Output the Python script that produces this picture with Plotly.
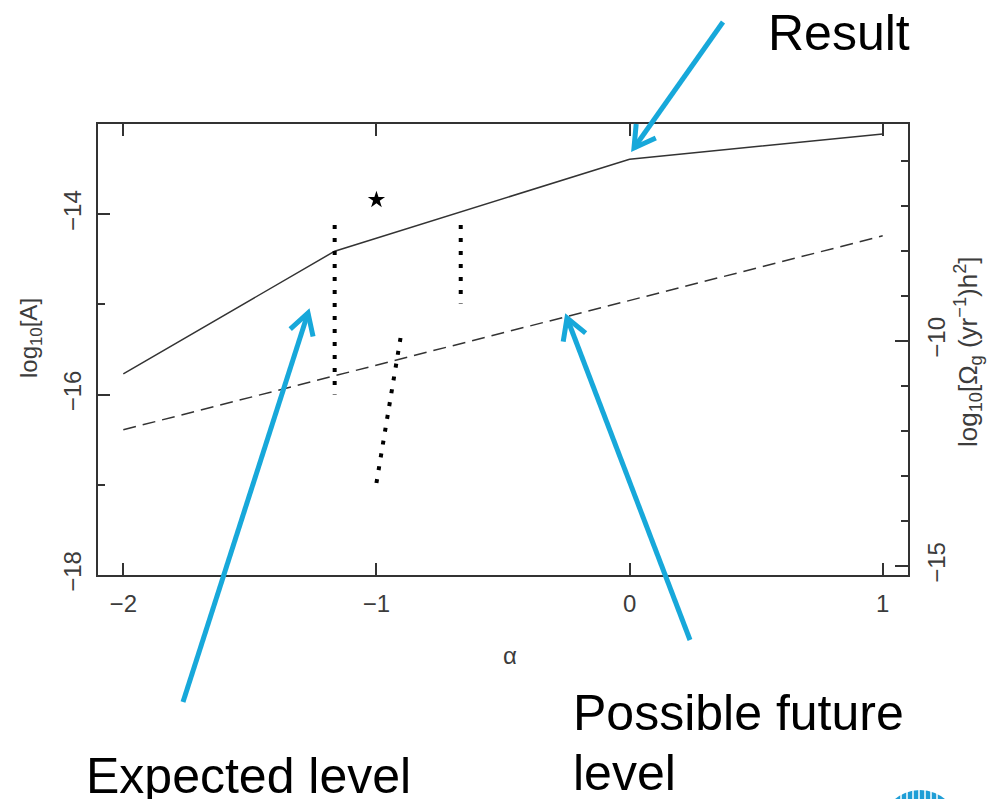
import math
import plotly.graph_objects as go

# ---- data (alpha vs log10 A) ----
alpha_result = [-2.0, -1.165, 0.0, 1.0]
logA_result = [-15.77, -14.41, -13.39, -13.11]

alpha_future = [-2.0, 1.0]
logA_future = [-16.39, -14.24]

alpha_band1 = [-1.165, -1.165]
logA_band1 = [-14.12, -16.0]

alpha_band2 = [-0.667, -0.667]
logA_band2 = [-14.12, -14.99]

alpha_band3 = [-1.0, -0.90]
logA_band3 = [-16.98, -15.29]

alpha_star = [-1.0]
logA_star = [-13.84]

x_ticks = [-2, -1, 0, 1]
x_ticktext = ["\u22122", "\u22121", "0", "1"]
yl_ticks = [-18, -16, -14]
yl_ticktext = ["\u221218", "\u221216", "\u221214"]
yl_minor = [-17, -15]
yr_ticks = [-15, -10]
yr_ticktext = ["\u221215", "\u221210"]
yr_minor = [-14, -13, -12, -11, -9, -8, -7, -6]

# ---- page geometry ----
W, H = 1001, 799
PL, PR, PT, PB = 98, 908, 124, 575
AX = "#333333"
LBL = "#3c3c3c"
BLUE = "#17A8DA"
FONT = "Liberation Sans, Arial, sans-serif"


def px(x):
    return (x - PL) / (PR - PL)


def py(y):
    return (PB - y) / (PB - PT)


fig = go.Figure()

fig.add_trace(go.Scatter(x=alpha_result, y=logA_result, mode="lines",
                         line=dict(color=AX, width=1.5)))
fig.add_trace(go.Scatter(x=alpha_future, y=logA_future, mode="lines",
                         line=dict(color=AX, width=1.5, dash="13px,7px")))
for xs, ys in [(alpha_band1, logA_band1), (alpha_band2, logA_band2),
               (alpha_band3, logA_band3)]:
    fig.add_trace(go.Scatter(x=xs, y=ys, mode="lines",
                             line=dict(color="#000000", width=4, dash="4px,9px")))
fig.add_trace(go.Scatter(x=alpha_star, y=logA_star, mode="markers",
                         marker=dict(symbol="star", size=13, color="#000000",
                                     line=dict(width=0))))
# invisible trace to activate the right-hand axis
fig.add_trace(go.Scatter(x=[0], y=[-10], yaxis="y2", mode="markers",
                         marker=dict(opacity=0), hoverinfo="skip"))

tickfont = dict(family=FONT, size=24, color=LBL)

fig.update_layout(
    width=W, height=H,
    margin=dict(l=PL, r=W - PR, t=PT, b=H - PB),
    paper_bgcolor="white", plot_bgcolor="white",
    showlegend=False,
    xaxis=dict(range=[-2.1, 1.1], tickvals=x_ticks, ticktext=x_ticktext,
               ticks="inside", ticklen=12, tickwidth=1.5, tickcolor=AX,
               showline=True, linecolor=AX, linewidth=1.5, mirror="ticks",
               showgrid=False, zeroline=False, tickfont=tickfont,
               ticklabelstandoff=6),
    yaxis=dict(range=[-18, -13], tickvals=yl_ticks, ticktext=yl_ticktext,
               ticks="inside", ticklen=12, tickwidth=1.5, tickcolor=AX,
               minor=dict(tickvals=yl_minor, ticks="inside", ticklen=7,
                          tickwidth=1.5, tickcolor=AX, showgrid=False),
               showline=True, linecolor=AX, linewidth=1.5, mirror=True,
               showgrid=False, zeroline=False, tickangle=-90, tickfont=tickfont,
               ticklabelstandoff=6),
    yaxis2=dict(range=[-15.2, -5.18], overlaying="y", side="right",
                tickvals=yr_ticks, ticktext=yr_ticktext,
                ticks="inside", ticklen=13, tickwidth=1.5, tickcolor=AX,
                minor=dict(tickvals=yr_minor, ticks="inside", ticklen=7,
                           tickwidth=1.5, tickcolor=AX, showgrid=False),
                showline=True, linecolor=AX, linewidth=1.5,
                showgrid=False, zeroline=False, tickangle=-90, tickfont=tickfont,
                ticklabelstandoff=6),
)

annotations = [
    dict(x=px(30), y=py(338), text="log<sub>10</sub>[A]", textangle=-90,
         font=dict(family=FONT, size=24, color=LBL)),
    dict(x=px(968), y=py(352),
         text="log<sub>10</sub>[\u03a9<sub>g</sub> (yr<sup>\u22121</sup>)h<sup>2</sup>]",
         textangle=-90, font=dict(family=FONT, size=26, color=LBL)),
    dict(x=px(510), y=py(655), text="\u03b1",
         font=dict(family=FONT, size=24, color=LBL)),
    dict(x=px(766), y=py(33), text="Result", xanchor="left",
         font=dict(family=FONT, size=50, color="#000000")),
    dict(x=px(84), y=py(776), text="Expected level", xanchor="left",
         font=dict(family=FONT, size=50, color="#000000")),
    dict(x=px(571), y=py(713), text="Possible future", xanchor="left",
         font=dict(family=FONT, size=50, color="#000000")),
    dict(x=px(571), y=py(773), text="level", xanchor="left",
         font=dict(family=FONT, size=50, color="#000000")),
]
for a in annotations:
    a.update(xref="paper", yref="paper", showarrow=False)
    a.setdefault("xanchor", "center")
    a.setdefault("yanchor", "middle")
fig.update_layout(annotations=annotations)

# ---- callout arrows (tail, tip) in page pixels ----
arrows = [((723, 22), (634, 148)),
          ((183, 702), (308, 313)),
          ((690, 640), (567, 318))]
shapes = []
for (tx, ty), (hx, hy) in arrows:
    shapes.append(dict(type="line", xref="paper", yref="paper",
                       x0=px(tx), y0=py(ty), x1=px(hx), y1=py(hy),
                       line=dict(color=BLUE, width=5)))
    dx, dy = tx - hx, ty - hy
    n = math.hypot(dx, dy)
    ux, uy = dx / n, dy / n
    arm = 24
    pts = []
    for ang in (math.radians(30), math.radians(-30)):
        c, s = math.cos(ang), math.sin(ang)
        pts.append((hx + arm * (ux * c - uy * s), hy + arm * (ux * s + uy * c)))
    path = "M {:.5f},{:.5f} L {:.5f},{:.5f} L {:.5f},{:.5f}".format(
        px(pts[0][0]), py(pts[0][1]), px(hx), py(hy), px(pts[1][0]), py(pts[1][1]))
    shapes.append(dict(type="path", xref="paper", yref="paper", path=path,
                       line=dict(color=BLUE, width=5)))

# striped logo disc at the bottom edge
cx, cy, r = 920, 829, 39
shapes.append(dict(type="circle", xref="paper", yref="paper",
                   x0=px(cx - r), x1=px(cx + r), y0=py(cy + r), y1=py(cy - r),
                   fillcolor="#1F9ED6", line=dict(width=0)))
for sx in range(901, 942, 6):
    shapes.append(dict(type="line", xref="paper", yref="paper",
                       x0=px(sx), x1=px(sx), y0=py(786), y1=py(800),
                       line=dict(color="white", width=1.5)))
fig.update_layout(shapes=shapes)

fig.write_html("out.html")
